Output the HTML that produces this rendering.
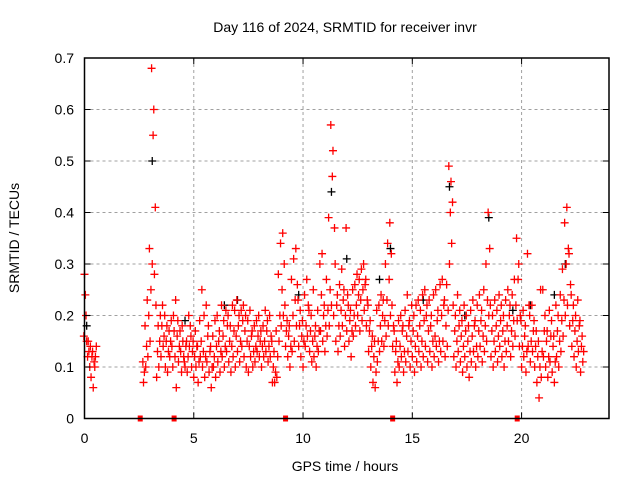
<!DOCTYPE html>
<html><head><meta charset="utf-8"><style>
body{margin:0;background:#fff;}
svg{display:block;font-family:"Liberation Sans",sans-serif;}
</style></head><body>
<svg id="chart" width="640" height="480" viewBox="0 0 640 480" xmlns="http://www.w3.org/2000/svg">
<rect width="640" height="480" fill="#fff"/>
<text x="345" y="32" font-size="14" text-anchor="middle">Day 116 of 2024, SRMTID for receiver invr</text>
<text transform="translate(19,238) rotate(-90)" font-size="14" text-anchor="middle">SRMTID / TECUs</text>
<text x="345" y="471" font-size="14" text-anchor="middle">GPS time / hours</text>
<g id="grid"></g>
<g id="black"></g>
<g id="red"></g>
<g id="gaps"></g>
<rect x="84.5" y="58" width="524.5" height="360.5" fill="none" stroke="#000" stroke-width="1.5"/>
<g id="ticks"></g>
</svg>
<script>
const xTicks=[0,5,10,15,20];
const yTicks=[0,0.1,0.2,0.3,0.4,0.5,0.6,0.7];
const yTickLabels=["0","0.1","0.2","0.3","0.4","0.5","0.6","0.7"];
const hours=[0.0,0.1,0.2,0.3,0.4,0.5,2.7,2.8,2.9,3.0,3.1,3.2,3.3,3.4,3.5,3.6,3.7,3.8,3.9,4.0,4.1,4.2,4.3,4.4,4.5,4.6,4.7,4.8,4.9,5.0,5.1,5.2,5.3,5.4,5.5,5.6,5.7,5.8,5.9,6.0,6.1,6.2,6.3,6.4,6.5,6.6,6.7,6.8,6.9,7.0,7.1,7.2,7.3,7.4,7.5,7.6,7.7,7.8,7.9,8.0,8.1,8.2,8.3,8.4,8.5,8.6,8.7,8.8,8.9,9.0,9.1,9.2,9.3,9.4,9.5,9.6,9.7,9.8,9.9,10.0,10.1,10.2,10.3,10.4,10.5,10.6,10.7,10.8,10.9,11.0,11.1,11.2,11.3,11.4,11.5,11.6,11.7,11.8,11.9,12.0,12.1,12.2,12.3,12.4,12.5,12.6,12.7,12.8,12.9,13.0,13.1,13.2,13.3,13.4,13.5,13.6,13.7,13.8,13.9,14.0,14.1,14.2,14.3,14.4,14.5,14.6,14.7,14.8,14.9,15.0,15.1,15.2,15.3,15.4,15.5,15.6,15.7,15.8,15.9,16.0,16.1,16.2,16.3,16.4,16.5,16.6,16.7,16.8,16.9,17.0,17.1,17.2,17.3,17.4,17.5,17.6,17.7,17.8,17.9,18.0,18.1,18.2,18.3,18.4,18.5,18.6,18.7,18.8,18.9,19.0,19.1,19.2,19.3,19.4,19.5,19.6,19.7,19.8,19.9,20.0,20.1,20.2,20.3,20.4,20.5,20.6,20.7,20.8,20.9,21.0,21.1,21.2,21.3,21.4,21.5,21.6,21.7,21.8,21.9,22.0,22.1,22.2,22.3,22.4,22.5,22.6,22.7,22.8];
const lo=[.28,.15,.13,.08,.06,.12,.07,.10,.12,.15,.30,.28,.08,.10,.12,.14,.10,.09,.12,.14,.17,.06,.11,.13,.15,.10,.09,.14,.10,.08,.10,.07,.12,.10,.08,.11,.09,.06,.10,.08,.11,.09,.12,.10,.13,.11,.09,.12,.10,.13,.11,.14,.12,.10,.09,.12,.10,.11,.13,.12,.10,.12,.13,.11,.12,.07,.07,.08,.15,.18,.20,.14,.12,.10,.13,.15,.18,.14,.12,.10,.14,.16,.13,.11,.12,.10,.13,.17,.15,.13,.16,.18,.22,.20,.15,.13,.16,.18,.14,.17,.15,.12,.16,.18,.20,.17,.19,.21,.18,.13,.10,.07,.06,.11,.13,.15,.14,.16,.18,.20,.14,.09,.07,.10,.12,.09,.11,.13,.10,.12,.09,.11,.13,.10,.12,.14,.11,.13,.10,.12,.14,.11,.13,.15,.12,.14,.30,.34,.12,.10,.13,.11,.09,.12,.10,.08,.11,.13,.10,.12,.14,.11,.13,.15,.20,.12,.10,.13,.11,.14,.12,.10,.13,.15,.12,.14,.16,.19,.14,.10,.12,.09,.14,.11,.13,.10,.07,.04,.08,.12,.10,.08,.11,.09,.07,.12,.10,.13,.16,.20,.22,.18,.14,.12,.10,.13,.09,.11];
const mid=[.24,.12,.10,.12,.11,.14,.09,.14,.20,.25,.55,.41,.13,.15,.18,.16,.15,.13,.15,.10,.12,.16,.14,.09,.12,.14,.12,.18,.13,.12,.14,.11,.15,.13,.12,.16,.13,.10,.12,.14,.15,.13,.16,.14,.18,.15,.14,.17,.16,.18,.15,.19,.17,.15,.14,.16,.13,.14,.16,.15,.14,.15,.17,.14,.16,.10,.09,.12,.20,.25,.30,.17,.16,.14,.20,.23,.26,.18,.16,.15,.18,.22,.17,.15,.16,.14,.17,.24,.20,.18,.21,.25,.47,.37,.22,.18,.21,.23,.20,.24,.19,.17,.20,.22,.24,.23,.25,.26,.23,.17,.14,.12,.09,.15,.18,.20,.19,.23,.27,.32,.18,.13,.11,.14,.17,.13,.16,.18,.15,.17,.14,.16,.18,.15,.19,.20,.17,.18,.15,.16,.19,.15,.20,.22,.18,.21,.40,.42,.17,.15,.18,.16,.14,.17,.15,.13,.16,.18,.14,.17,.19,.16,.18,.23,.33,.17,.15,.18,.16,.19,.17,.15,.18,.20,.17,.19,.22,.27,.20,.14,.16,.13,.22,.15,.17,.14,.12,.10,.13,.17,.15,.12,.16,.14,.11,.17,.15,.19,.23,.30,.33,.26,.19,.17,.15,.18,.14,.13];
const hi=[.16,.20,.15,.14,.13,.10,.11,.18,.23,.33,.68,.60,.22,.18,.20,.22,.20,.18,.17,.19,.20,.23,.19,.17,.18,.11,.15,.20,.16,.15,.17,.14,.19,.25,.20,.22,.18,.14,.16,.19,.20,.17,.22,.19,.21,.20,.18,.22,.21,.23,.20,.21,.22,.20,.19,.21,.17,.18,.19,.20,.17,.18,.21,.19,.20,.15,.13,.17,.28,.34,.36,.22,.19,.18,.27,.31,.33,.23,.21,.19,.24,.27,.21,.20,.25,.18,.21,.30,.32,.22,.27,.39,.57,.52,.30,.24,.26,.29,.25,.37,.22,.21,.25,.26,.28,.27,.29,.30,.27,.22,.19,.16,.15,.21,.22,.24,.23,.30,.34,.38,.22,.17,.15,.19,.20,.18,.21,.24,.19,.22,.20,.22,.23,.21,.24,.25,.22,.23,.20,.24,.25,.21,.26,.27,.23,.26,.49,.46,.22,.20,.24,.21,.19,.22,.20,.18,.21,.23,.19,.22,.24,.21,.25,.30,.40,.22,.20,.23,.21,.24,.22,.20,.23,.25,.22,.24,.27,.35,.30,.19,.21,.18,.32,.20,.22,.19,.17,.15,.25,.25,.20,.17,.21,.19,.16,.22,.20,.24,.29,.38,.41,.32,.24,.22,.20,.23,.19,.16];
const blackHours=[0.1,3.1,7.0,11.3,12.0,14.0,16.7,18.5,21.5,22.0,6.4,9.8,13.5,17.4,19.6,15.5,4.6,20.4];
const blackVals=[.18,.50,.23,.44,.31,.33,.45,.39,.24,.30,.22,.24,.27,.20,.21,.23,.19,.22];
const gapHours=[2.55,4.1,9.2,14.1,19.8];

const NS="http://www.w3.org/2000/svg";
const X0=84.5,X1=609,Y0=418.5,Y1=58;
function xs(h){return X0+(X1-X0)*h/24;}
function ys(v){return Y0-(Y0-Y1)*v/0.7;}
function mk(tag,attrs,parent){const e=document.createElementNS(NS,tag);for(const k in attrs)e.setAttribute(k,attrs[k]);parent.appendChild(e);return e;}
const grid=document.getElementById('grid'),ticks=document.getElementById('ticks');
xTicks.forEach(t=>{
  const x=xs(t);
  if(t>0){const g=mk('line',{x1:x,x2:x,y1:Y1,y2:Y0,stroke:'#a0a0a0','stroke-dasharray':'3,3'},grid);
  
  }
  const tk=mk('path',{d:`M${x},${Y0}v-6M${x},${Y1}v6`,stroke:'#000'},ticks);
  
  
  const tl=mk('text',{x:x,y:443,'font-size':14,'text-anchor':'middle'},ticks);tl.textContent=t;
  
  
});
yTicks.forEach((t,i)=>{
  const y=ys(t);
  if(t>0&&t<0.7){const g=mk('line',{x1:X0,x2:X1,y1:y,y2:y,stroke:'#a0a0a0','stroke-dasharray':'3,3'},grid);
  
  }
  const tk=mk('path',{d:`M${X0},${y}h6M${X1},${y}h-6`,stroke:'#000'},ticks);
  
  
  const tl=mk('text',{x:74,y:y+5,'font-size':14,'text-anchor':'end'},ticks);tl.textContent=yTickLabels[i];
  
  
});
function plus(g,h,v,c){const x=xs(h),y=ys(v);
  const p=mk('path',{d:`M${x-4},${y}h8M${x},${y-4}v8`,stroke:c,'stroke-width':1.3},g);
  
  }
const bg=document.getElementById('black'),rg=document.getElementById('red');
blackHours.forEach((h,i)=>plus(bg,h,blackVals[i],'#000'));
hours.forEach((h,i)=>{plus(rg,h,lo[i],'#f00');plus(rg,h+0.04,mid[i],'#f00');plus(rg,h-0.03,hi[i],'#f00');});
const gg=document.getElementById('gaps');
gapHours.forEach(h=>{const r=mk('rect',{x:xs(h)-2.5,y:Y0-3,width:5,height:6,fill:'#f00'},gg);
  
  });
</script>
</body></html>
